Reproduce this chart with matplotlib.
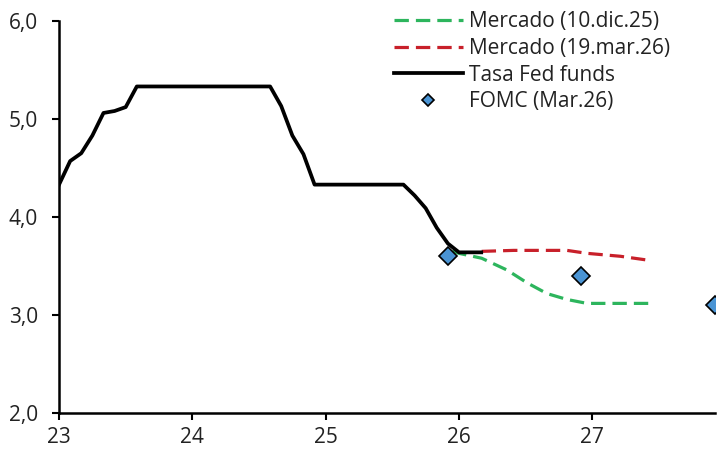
import numpy as np
import matplotlib.pyplot as plt
import matplotlib.ticker as ticker

# --- Data ---

# Fed funds rate, monthly from Jan 2023 (x = year - 2000 + (month - 1) / 12)
fed_months = np.arange(39)
fed_rate = [4.33, 4.57, 4.65, 4.83, 5.06, 5.08, 5.12, 5.33, 5.33, 5.33,
            5.33, 5.33, 5.33, 5.33, 5.33, 5.33, 5.33, 5.33, 5.33, 5.33,
            5.13, 4.83, 4.64, 4.33, 4.33, 4.33, 4.33, 4.33, 4.33, 4.33,
            4.33, 4.33, 4.22, 4.09, 3.89, 3.73, 3.64, 3.64, 3.64]

# Market-implied path, 10 Dec 2025
mkt_dec_x = [25.95, 26.0, 26.17, 26.36, 26.51, 26.66, 26.81, 26.96, 27.16, 27.42]
mkt_dec_y = [3.65, 3.63, 3.58, 3.46, 3.33, 3.22, 3.16, 3.12, 3.12, 3.12]

# Market-implied path, 19 Mar 2026
mkt_mar_x = [26.17, 26.41, 26.81, 26.96, 27.21, 27.42]
mkt_mar_y = [3.65, 3.66, 3.66, 3.63, 3.60, 3.56]

# FOMC projections (Mar.26)
fomc_x = [25.917, 26.917, 27.917]
fomc_y = [3.60, 3.40, 3.10]

x_ticks = [23, 24, 25, 26, 27]
y_ticks = [2, 3, 4, 5, 6]

# --- Style ---
GREEN = "#2DB55D"
RED = "#C8202A"
BLUE = "#4A94D4"
FS = 15
FS_LEGEND = 15

plt.rcParams["font.family"] = ["Open Sans", "DejaVu Sans"]
plt.rcParams["text.color"] = "#222222"

fig = plt.figure(figsize=(7.2, 4.5), dpi=100)
ax = fig.add_axes([0.082, 0.0815, 0.911, 0.8725])

fed_x = 23 + fed_months / 12

ax.plot(mkt_dec_x, mkt_dec_y, color=GREEN, lw=2.3, dashes=(4.5, 2.2),
        label="Mercado (10.dic.25)", zorder=3)
ax.plot(mkt_mar_x, mkt_mar_y, color=RED, lw=2.3, dashes=(4.5, 2.2),
        label="Mercado (19.mar.26)", zorder=3)
ax.plot(fed_x, fed_rate, color="black", lw=2.7, solid_joinstyle="round",
        label="Tasa Fed funds", zorder=4)
ax.plot(fomc_x, fomc_y, ls="none", marker="D", ms=9, mfc=BLUE, mec="black",
        mew=1.2, label="FOMC (Mar.26)", zorder=5)

ax.set_xlim(23, 27.92)
ax.set_ylim(2, 6)
ax.set_xticks(x_ticks)
ax.set_yticks(y_ticks)
ax.yaxis.set_major_formatter(ticker.FuncFormatter(lambda v, p: f"{v:.1f}".replace(".", ",")))

for side in ("top", "right"):
    ax.spines[side].set_visible(False)
for side in ("left", "bottom"):
    ax.spines[side].set_linewidth(1.8)
ax.tick_params(axis="both", direction="out", length=5, width=1.5,
               labelsize=FS, colors="black", labelcolor="#222222")
ax.tick_params(axis="x", pad=5)
ax.tick_params(axis="y", pad=10)

leg = ax.legend(loc="upper left", bbox_to_anchor=(394 / 720, 1 - 11 / 450),
                bbox_transform=fig.transFigure, frameon=False, fontsize=FS_LEGEND,
                handlelength=3.3, handletextpad=0.3, labelspacing=0.28,
                borderpad=0, borderaxespad=0, markerscale=0.65)

fig.savefig("out.png", dpi=100)
